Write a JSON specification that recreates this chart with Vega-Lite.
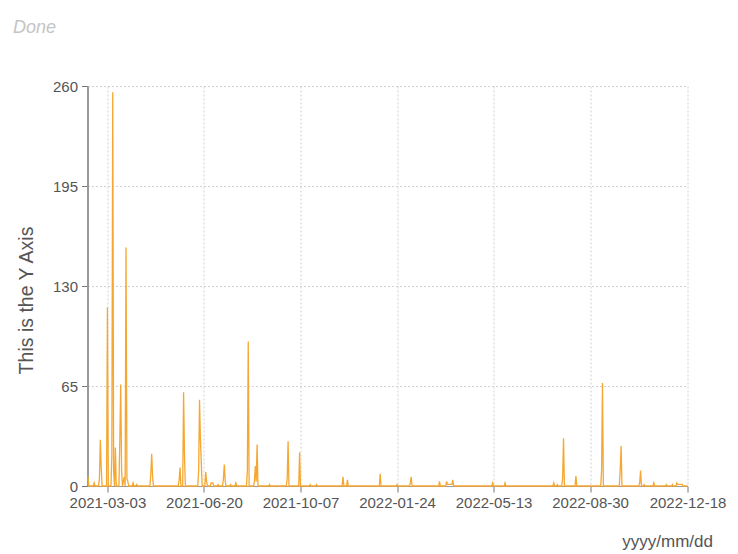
{
  "$schema": "https://vega.github.io/schema/vega-lite/v6.json",
  "width": 600,
  "height": 400,
  "padding": {"left": 12.5, "top": 18, "right": 5, "bottom": 5},
  "background": "white",
  "title": {"text": "Done", "anchor": "start", "frame": "bounds", "fontStyle": "italic", "fontWeight": "normal", "fontSize": 18, "color": "#c4c4c4", "font": "Liberation Sans", "offset": 42.5, "dx": -3.5},
  "config": {
    "view": {"stroke": null},
    "font": "Liberation Sans",
    "axis": {"labelFont": "Liberation Sans", "titleFont": "Liberation Sans", "labelFontSize": 15, "labelColor": "#555", "titleColor": "#555", "titleFontWeight": "normal", "titleFontSize": 18, "gridColor": "#d0d0d0", "gridDash": [2, 2], "tickColor": "#777", "domainColor": "#999", "tickSize": 6}
  },
  "data": {"values": [
    {"date": "2021-02-09", "value": 6}, {"date": "2021-02-10", "value": 0},
    {"date": "2021-02-15", "value": 0}, {"date": "2021-02-16", "value": 2}, {"date": "2021-02-17", "value": 0},
    {"date": "2021-02-21", "value": 0}, {"date": "2021-02-22", "value": 5}, {"date": "2021-02-23", "value": 30}, {"date": "2021-02-24", "value": 12}, {"date": "2021-02-25", "value": 0},
    {"date": "2021-03-02", "value": 0}, {"date": "2021-03-03", "value": 116}, {"date": "2021-03-04", "value": 0},
    {"date": "2021-03-07", "value": 0}, {"date": "2021-03-08", "value": 20}, {"date": "2021-03-09", "value": 256}, {"date": "2021-03-10", "value": 10}, {"date": "2021-03-11", "value": 0}, {"date": "2021-03-12", "value": 25}, {"date": "2021-03-13", "value": 0},
    {"date": "2021-03-16", "value": 0}, {"date": "2021-03-17", "value": 30}, {"date": "2021-03-18", "value": 66}, {"date": "2021-03-19", "value": 10}, {"date": "2021-03-20", "value": 0},
    {"date": "2021-03-22", "value": 6}, {"date": "2021-03-23", "value": 0}, {"date": "2021-03-24", "value": 155}, {"date": "2021-03-25", "value": 5}, {"date": "2021-03-26", "value": 3}, {"date": "2021-03-27", "value": 0},
    {"date": "2021-03-31", "value": 0}, {"date": "2021-04-01", "value": 2}, {"date": "2021-04-02", "value": 0},
    {"date": "2021-04-04", "value": 0}, {"date": "2021-04-05", "value": 1}, {"date": "2021-04-06", "value": 0},
    {"date": "2021-04-20", "value": 0}, {"date": "2021-04-21", "value": 8}, {"date": "2021-04-22", "value": 21}, {"date": "2021-04-23", "value": 6}, {"date": "2021-04-24", "value": 0},
    {"date": "2021-05-22", "value": 0}, {"date": "2021-05-23", "value": 4}, {"date": "2021-05-24", "value": 12}, {"date": "2021-05-25", "value": 0},
    {"date": "2021-05-27", "value": 0}, {"date": "2021-05-28", "value": 61}, {"date": "2021-05-29", "value": 20}, {"date": "2021-05-30", "value": 0},
    {"date": "2021-06-13", "value": 0}, {"date": "2021-06-14", "value": 10}, {"date": "2021-06-15", "value": 56}, {"date": "2021-06-16", "value": 30}, {"date": "2021-06-17", "value": 15}, {"date": "2021-06-18", "value": 0},
    {"date": "2021-06-21", "value": 0}, {"date": "2021-06-22", "value": 9}, {"date": "2021-06-23", "value": 3}, {"date": "2021-06-24", "value": 0},
    {"date": "2021-06-27", "value": 0}, {"date": "2021-06-28", "value": 2}, {"date": "2021-06-29", "value": 2}, {"date": "2021-06-30", "value": 2}, {"date": "2021-07-01", "value": 0},
    {"date": "2021-07-05", "value": 0}, {"date": "2021-07-06", "value": 1}, {"date": "2021-07-07", "value": 0},
    {"date": "2021-07-11", "value": 0}, {"date": "2021-07-12", "value": 5}, {"date": "2021-07-13", "value": 14}, {"date": "2021-07-14", "value": 3}, {"date": "2021-07-15", "value": 0},
    {"date": "2021-07-19", "value": 0}, {"date": "2021-07-20", "value": 1}, {"date": "2021-07-21", "value": 0},
    {"date": "2021-07-25", "value": 0}, {"date": "2021-07-26", "value": 2}, {"date": "2021-07-27", "value": 0},
    {"date": "2021-08-07", "value": 0}, {"date": "2021-08-08", "value": 10}, {"date": "2021-08-09", "value": 94}, {"date": "2021-08-10", "value": 0},
    {"date": "2021-08-15", "value": 0}, {"date": "2021-08-16", "value": 3}, {"date": "2021-08-17", "value": 13}, {"date": "2021-08-18", "value": 3}, {"date": "2021-08-19", "value": 27}, {"date": "2021-08-20", "value": 0},
    {"date": "2021-09-01", "value": 0}, {"date": "2021-09-02", "value": 1}, {"date": "2021-09-03", "value": 0},
    {"date": "2021-09-21", "value": 0}, {"date": "2021-09-22", "value": 5}, {"date": "2021-09-23", "value": 29}, {"date": "2021-09-24", "value": 0},
    {"date": "2021-10-05", "value": 0}, {"date": "2021-10-06", "value": 22}, {"date": "2021-10-07", "value": 0},
    {"date": "2021-10-17", "value": 0}, {"date": "2021-10-18", "value": 1}, {"date": "2021-10-19", "value": 0},
    {"date": "2021-10-24", "value": 0}, {"date": "2021-10-25", "value": 1}, {"date": "2021-10-26", "value": 0},
    {"date": "2021-11-23", "value": 0}, {"date": "2021-11-24", "value": 6}, {"date": "2021-11-25", "value": 0},
    {"date": "2021-11-28", "value": 0}, {"date": "2021-11-29", "value": 4}, {"date": "2021-11-30", "value": 0},
    {"date": "2022-01-04", "value": 0}, {"date": "2022-01-05", "value": 8}, {"date": "2022-01-06", "value": 0},
    {"date": "2022-01-23", "value": 0}, {"date": "2022-01-24", "value": 1}, {"date": "2022-01-25", "value": 0},
    {"date": "2022-02-07", "value": 0}, {"date": "2022-02-08", "value": 2}, {"date": "2022-02-09", "value": 6}, {"date": "2022-02-10", "value": 0},
    {"date": "2022-03-12", "value": 0}, {"date": "2022-03-13", "value": 3}, {"date": "2022-03-14", "value": 0},
    {"date": "2022-03-20", "value": 0}, {"date": "2022-03-21", "value": 3}, {"date": "2022-03-22", "value": 1}, {"date": "2022-03-27", "value": 1}, {"date": "2022-03-28", "value": 4}, {"date": "2022-03-29", "value": 0},
    {"date": "2022-05-11", "value": 0}, {"date": "2022-05-12", "value": 2}, {"date": "2022-05-13", "value": 0},
    {"date": "2022-05-25", "value": 0}, {"date": "2022-05-26", "value": 2}, {"date": "2022-05-27", "value": 0},
    {"date": "2022-07-19", "value": 0}, {"date": "2022-07-20", "value": 2}, {"date": "2022-07-21", "value": 0},
    {"date": "2022-07-23", "value": 0}, {"date": "2022-07-24", "value": 1}, {"date": "2022-07-25", "value": 0},
    {"date": "2022-07-29", "value": 0}, {"date": "2022-07-30", "value": 5}, {"date": "2022-07-31", "value": 31}, {"date": "2022-08-01", "value": 0},
    {"date": "2022-08-13", "value": 0}, {"date": "2022-08-14", "value": 6.5}, {"date": "2022-08-15", "value": 0},
    {"date": "2022-09-11", "value": 0}, {"date": "2022-09-12", "value": 10}, {"date": "2022-09-13", "value": 67}, {"date": "2022-09-14", "value": 0},
    {"date": "2022-10-02", "value": 0}, {"date": "2022-10-03", "value": 10}, {"date": "2022-10-04", "value": 26}, {"date": "2022-10-05", "value": 0},
    {"date": "2022-10-24", "value": 0}, {"date": "2022-10-25", "value": 2}, {"date": "2022-10-26", "value": 10}, {"date": "2022-10-27", "value": 0},
    {"date": "2022-10-29", "value": 0}, {"date": "2022-10-30", "value": 1}, {"date": "2022-10-31", "value": 0},
    {"date": "2022-11-09", "value": 0}, {"date": "2022-11-10", "value": 2}, {"date": "2022-11-11", "value": 0},
    {"date": "2022-11-23", "value": 0}, {"date": "2022-11-24", "value": 1}, {"date": "2022-11-25", "value": 0},
    {"date": "2022-11-30", "value": 0}, {"date": "2022-12-01", "value": 1}, {"date": "2022-12-02", "value": 0},
    {"date": "2022-12-05", "value": 0}, {"date": "2022-12-06", "value": 2}, {"date": "2022-12-07", "value": 1}, {"date": "2022-12-08", "value": 1}, {"date": "2022-12-09", "value": 1}, {"date": "2022-12-12", "value": 1}, {"date": "2022-12-13", "value": 0},
    {"date": "2022-12-18", "value": 0}
  ]},
  "mark": {"type": "line", "color": "#f5a731", "strokeWidth": 1.3, "interpolate": "linear"},
  "encoding": {
    "x": {
      "field": "date", "type": "temporal",
      "scale": {"type": "utc", "domain": [{"year": 2021, "month": 2, "date": 8, "hours": 12, "utc": true}, {"year": 2022, "month": 12, "date": 18, "utc": true}]},
      "axis": {
        "values": [
          {"year": 2021, "month": 3, "date": 3, "utc": true},
          {"year": 2021, "month": 6, "date": 20, "utc": true},
          {"year": 2021, "month": 10, "date": 7, "utc": true},
          {"year": 2022, "month": 1, "date": 24, "utc": true},
          {"year": 2022, "month": 5, "date": 13, "utc": true},
          {"year": 2022, "month": 8, "date": 30, "utc": true},
          {"year": 2022, "month": 12, "date": 18, "utc": true}
        ],
        "labelExpr": "utcFormat(datum.value, '%Y-%m-%d')",
        "labelPadding": 3,
        "labelFlush": false,
        "labelOverlap": false,
        "title": "yyyy/mm/dd",
        "titleFontSize": 17,
        "titleAnchor": "end",
        "titleAlign": "right",
        "titleX": 625,
        "titleY": 47,
        "grid": true
      }
    },
    "y": {
      "field": "value", "type": "quantitative",
      "scale": {"domain": [0, 260], "nice": false},
      "axis": {"values": [0, 65, 130, 195, 260], "title": "This is the Y Axis", "titleFontSize": 19.5, "titleY": 214, "grid": true, "domainWidth": 2, "labelPadding": 4, "titlePadding": 16}
    }
  }
}
